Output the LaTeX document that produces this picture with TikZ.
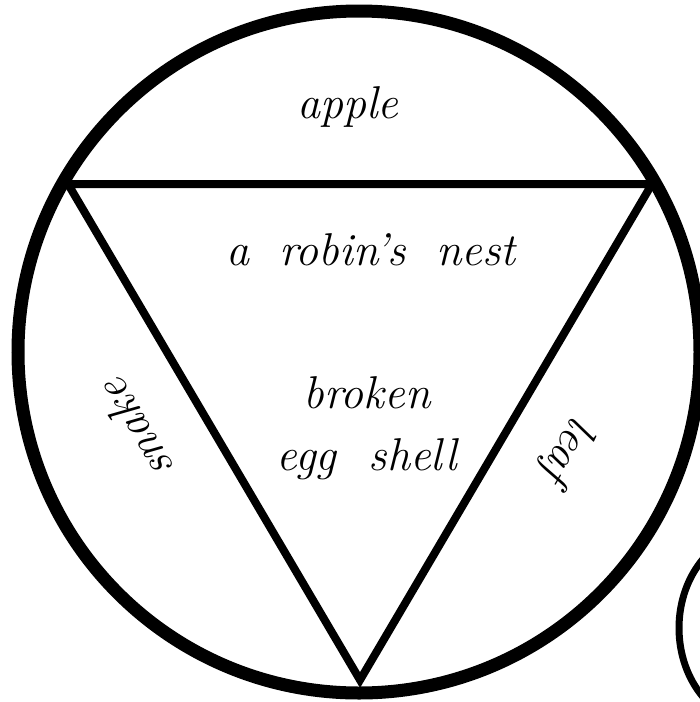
\documentclass[tikz,border=0pt]{standalone}
\begin{document}
\begin{tikzpicture}[x=1pt,y=-1pt,
  lbl/.style={font=\fontsize{46}{50}\selectfont\itshape, inner sep=0pt},
  ring/.style={line width=13pt},
  tri/.style={line width=8pt, line join=miter},
  partial/.style={line width=7pt}]
\useasboundingbox (0,0) rectangle (700,702);
\fill[white] (0,0) rectangle (700,702);
\clip (0,0) rectangle (700,702);
\coordinate (O) at (359,352);
\draw[ring] (O) circle[radius=341pt];
\coordinate (A) at (68,184);
\coordinate (B) at (652,184);
\coordinate (C) at (360,680);
\draw[tri] (A) -- (B) -- (C) -- cycle;
\coordinate (E) at (760,628);
\draw[partial] (E) ellipse[x radius=81pt, y radius=97pt];
\node[lbl, anchor=base] (apple) at (348,118) {apple};
\node[lbl, anchor=base] (nest) at (371,265) {a\hspace{0.65em}robin's\hspace{0.65em}nest};
\node[lbl, anchor=base] (broken) at (367,408) {broken};
\node[lbl, anchor=base] (egg) at (367,470) {egg\hspace{0.7em}shell};
\node[lbl, rotate=120] (snake) at (135,430) {snake};
\node[lbl, rotate=240] (leaf) at (567,449) {leaf};
\end{tikzpicture}
\end{document}
